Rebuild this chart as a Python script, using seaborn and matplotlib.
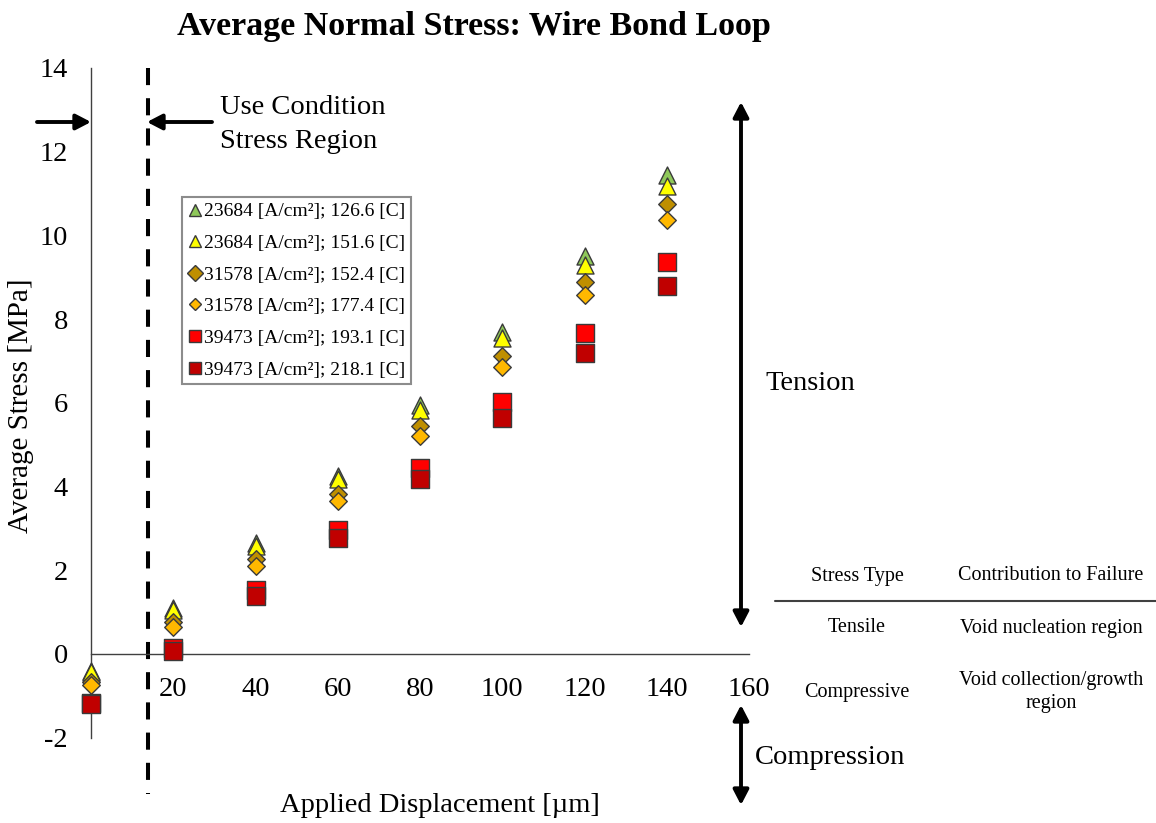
import matplotlib
matplotlib.use("Agg")
import matplotlib.pyplot as plt
import seaborn as sns
import pandas as pd
from matplotlib.lines import Line2D
from matplotlib.patches import FancyArrowPatch, ArrowStyle

sns.set_style("white")
plt.rcParams['font.family'] = ['Liberation Serif', 'DejaVu Serif']
for k in ['text.color', 'axes.labelcolor', 'xtick.color', 'ytick.color']:
    plt.rcParams[k] = 'black'

# ---------------- data ----------------
displacement = [0, 20, 40, 60, 80, 100, 120, 140]
series_labels = [
    "23684 [A/cm²]; 126.6 [C]",
    "23684 [A/cm²]; 151.6 [C]",
    "31578 [A/cm²]; 152.4 [C]",
    "31578 [A/cm²]; 177.4 [C]",
    "39473 [A/cm²]; 193.1 [C]",
    "39473 [A/cm²]; 218.1 [C]",
]
s1 = [-0.40, 1.10, 2.65, 4.25, 5.95, 7.70, 9.52, 11.44]
s2 = [-0.43, 1.05, 2.58, 4.18, 5.83, 7.55, 9.29, 11.18]
s3 = [-0.68, 0.77, 2.28, 3.82, 5.45, 7.13, 8.89, 10.75]
s4 = [-0.75, 0.65, 2.10, 3.65, 5.22, 6.86, 8.58, 10.37]
s5 = [-1.18, 0.15, 1.52, 2.97, 4.45, 6.03, 7.68, 9.37]
s6 = [-1.20, 0.08, 1.38, 2.76, 4.17, 5.65, 7.19, 8.80]
series_values = [s1, s2, s3, s4, s5, s6]

colors = ["#8FC85A", "#FFFF00", "#BF8F00", "#FFB800", "#FF0000", "#C00000"]
markers = ["^", "^", "D", "D", "s", "s"]
sizes = [150, 150, 80, 80, 150, 150]

x_ticks = [20, 40, 60, 80, 100, 120, 140, 160]
y_ticks = [-2, 0, 2, 4, 6, 8, 10, 12, 14]

# ---------------- figure ----------------
W, H = 1156, 823
fig = plt.figure(figsize=(W / 100, H / 100), dpi=100)

def fx(px):
    return px / W

def fy(py):
    return 1 - py / H

y_bottom = -3.35
ax_left_px, ax_right_px = 91, 749
ax_top_px = 68
ax_bot_px = 654 + (0 - y_bottom) * (654 - 68) / 14.0
ax = fig.add_axes([fx(ax_left_px), fy(ax_bot_px), (ax_right_px - ax_left_px) / W,
                   (ax_bot_px - ax_top_px) / H])

rows = []
for lab, vals in zip(series_labels, series_values):
    for xv, yv in zip(displacement, vals):
        rows.append({"x": xv, "y": yv, "series": lab})
df = pd.DataFrame(rows)

for lab, c, m, s in zip(series_labels, colors, markers, sizes):
    sub = df[df["series"] == lab]
    sns.scatterplot(data=sub, x="x", y="y", ax=ax, color=c, marker=m, s=s,
                    edgecolor="#3a3a3a", linewidth=1.0, legend=False, zorder=3,
                    clip_on=False)

for sp in ["top", "right"]:
    ax.spines[sp].set_visible(False)
ax.spines["bottom"].set_position(("data", 0))
ax.spines["left"].set_bounds(-2, 14)
for sp in ["left", "bottom"]:
    ax.spines[sp].set_color("#404040")
    ax.spines[sp].set_linewidth(1.0)

ax.set_xlim(0, 160)
ax.set_ylim(y_bottom, 14)
ax.set_xticks(x_ticks)
ax.set_yticks(y_ticks)
ax.set_xticklabels([str(t) for t in x_ticks])
ax.set_yticklabels([str(t) for t in y_ticks])
ax.set_xlabel("")
ax.set_ylabel("")
ax.tick_params(axis="x", direction="out", length=7, width=1, color="#404040",
               pad=9.5, labelsize=20.5, labelcolor="black")
ax.tick_params(axis="y", direction="out", length=7, width=1, color="#404040",
               pad=9.5, labelsize=20.5, labelcolor="black")
ax.grid(False)
ax.patch.set_alpha(0)

# dashed use-condition line
ax.plot([13.9, 13.9], [14, y_bottom], color="black", lw=2.9, dashes=(4.25, 3.25),
        clip_on=False, zorder=2)

# legend
leg_sizes = [9, 9, 8, 6.5, 9, 9]
handles = [Line2D([0], [0], marker=m, color="none", markerfacecolor=c,
                  markeredgecolor="#3a3a3a", markersize=ms, markeredgewidth=1.0)
           for c, m, ms in zip(colors, markers, leg_sizes)]
leg = fig.legend(handles, series_labels, loc="upper left",
                 bbox_to_anchor=(fx(182), fy(197)), frameon=True, fancybox=False,
                 edgecolor="#707070", fontsize=14, handlelength=0.7, handletextpad=0.15,
                 labelspacing=0.72, borderpad=0.3, borderaxespad=0)
leg.get_frame().set_linewidth(1.5)

# titles and labels
fig.text(fx(474), fy(27), "Average Normal Stress: Wire Bond Loop", ha="center",
         va="center", fontsize=24.5, fontweight="bold")
fig.text(fx(440), fy(806), "Applied Displacement [µm]", ha="center", va="center",
         fontsize=20.5)
fig.text(fx(21), fy(406), "Average Stress [MPa]", ha="center", va="center",
         fontsize=21, rotation=90)
fig.text(fx(220), fy(108), "Use Condition", ha="left", va="center", fontsize=20.5)
fig.text(fx(220), fy(141), "Stress Region", ha="left", va="center", fontsize=20.5)
fig.text(fx(765), fy(383), "Tension", ha="left", va="center", fontsize=20.5)
fig.text(fx(755), fy(757), "Compression", ha="left", va="center", fontsize=20.5)

# arrows
def arrow(x0, y0, x1, y1, double=False):
    style = ArrowStyle("<|-|>" if double else "-|>", head_length=0.5, head_width=0.26)
    fig.add_artist(FancyArrowPatch(
        (fx(x0), fy(y0)), (fx(x1), fy(y1)), transform=fig.transFigure,
        arrowstyle=style, mutation_scale=18, lw=2.8, color="black",
        shrinkA=0, shrinkB=0))

arrow(37, 122, 91, 122)
arrow(212, 122, 147, 122)
arrow(741, 627, 741, 102, double=True)
arrow(741, 705, 741, 805, double=True)

# table
fig.add_artist(Line2D([fx(775), fx(1156)], [fy(601), fy(601)], transform=fig.transFigure,
                      color="#404040", lw=1.5))
tcol1, tcol2 = 857, 1051
tfs = 14.5
fig.text(fx(tcol1), fy(576), "Stress Type", ha="center", va="center", fontsize=tfs)
fig.text(fx(tcol2), fy(576), "Contribution to Failure", ha="center", va="center", fontsize=tfs)
fig.text(fx(tcol1), fy(628), "Tensile", ha="center", va="center", fontsize=tfs)
fig.text(fx(tcol2), fy(628), "Void nucleation region", ha="center", va="center", fontsize=tfs)
fig.text(fx(tcol1), fy(692), "Compressive", ha="center", va="center", fontsize=tfs)
fig.text(fx(tcol2), fy(692), "Void collection/growth\nregion", ha="center", va="center",
         fontsize=tfs, linespacing=1.25)

fig.savefig("out.png", dpi=100)
